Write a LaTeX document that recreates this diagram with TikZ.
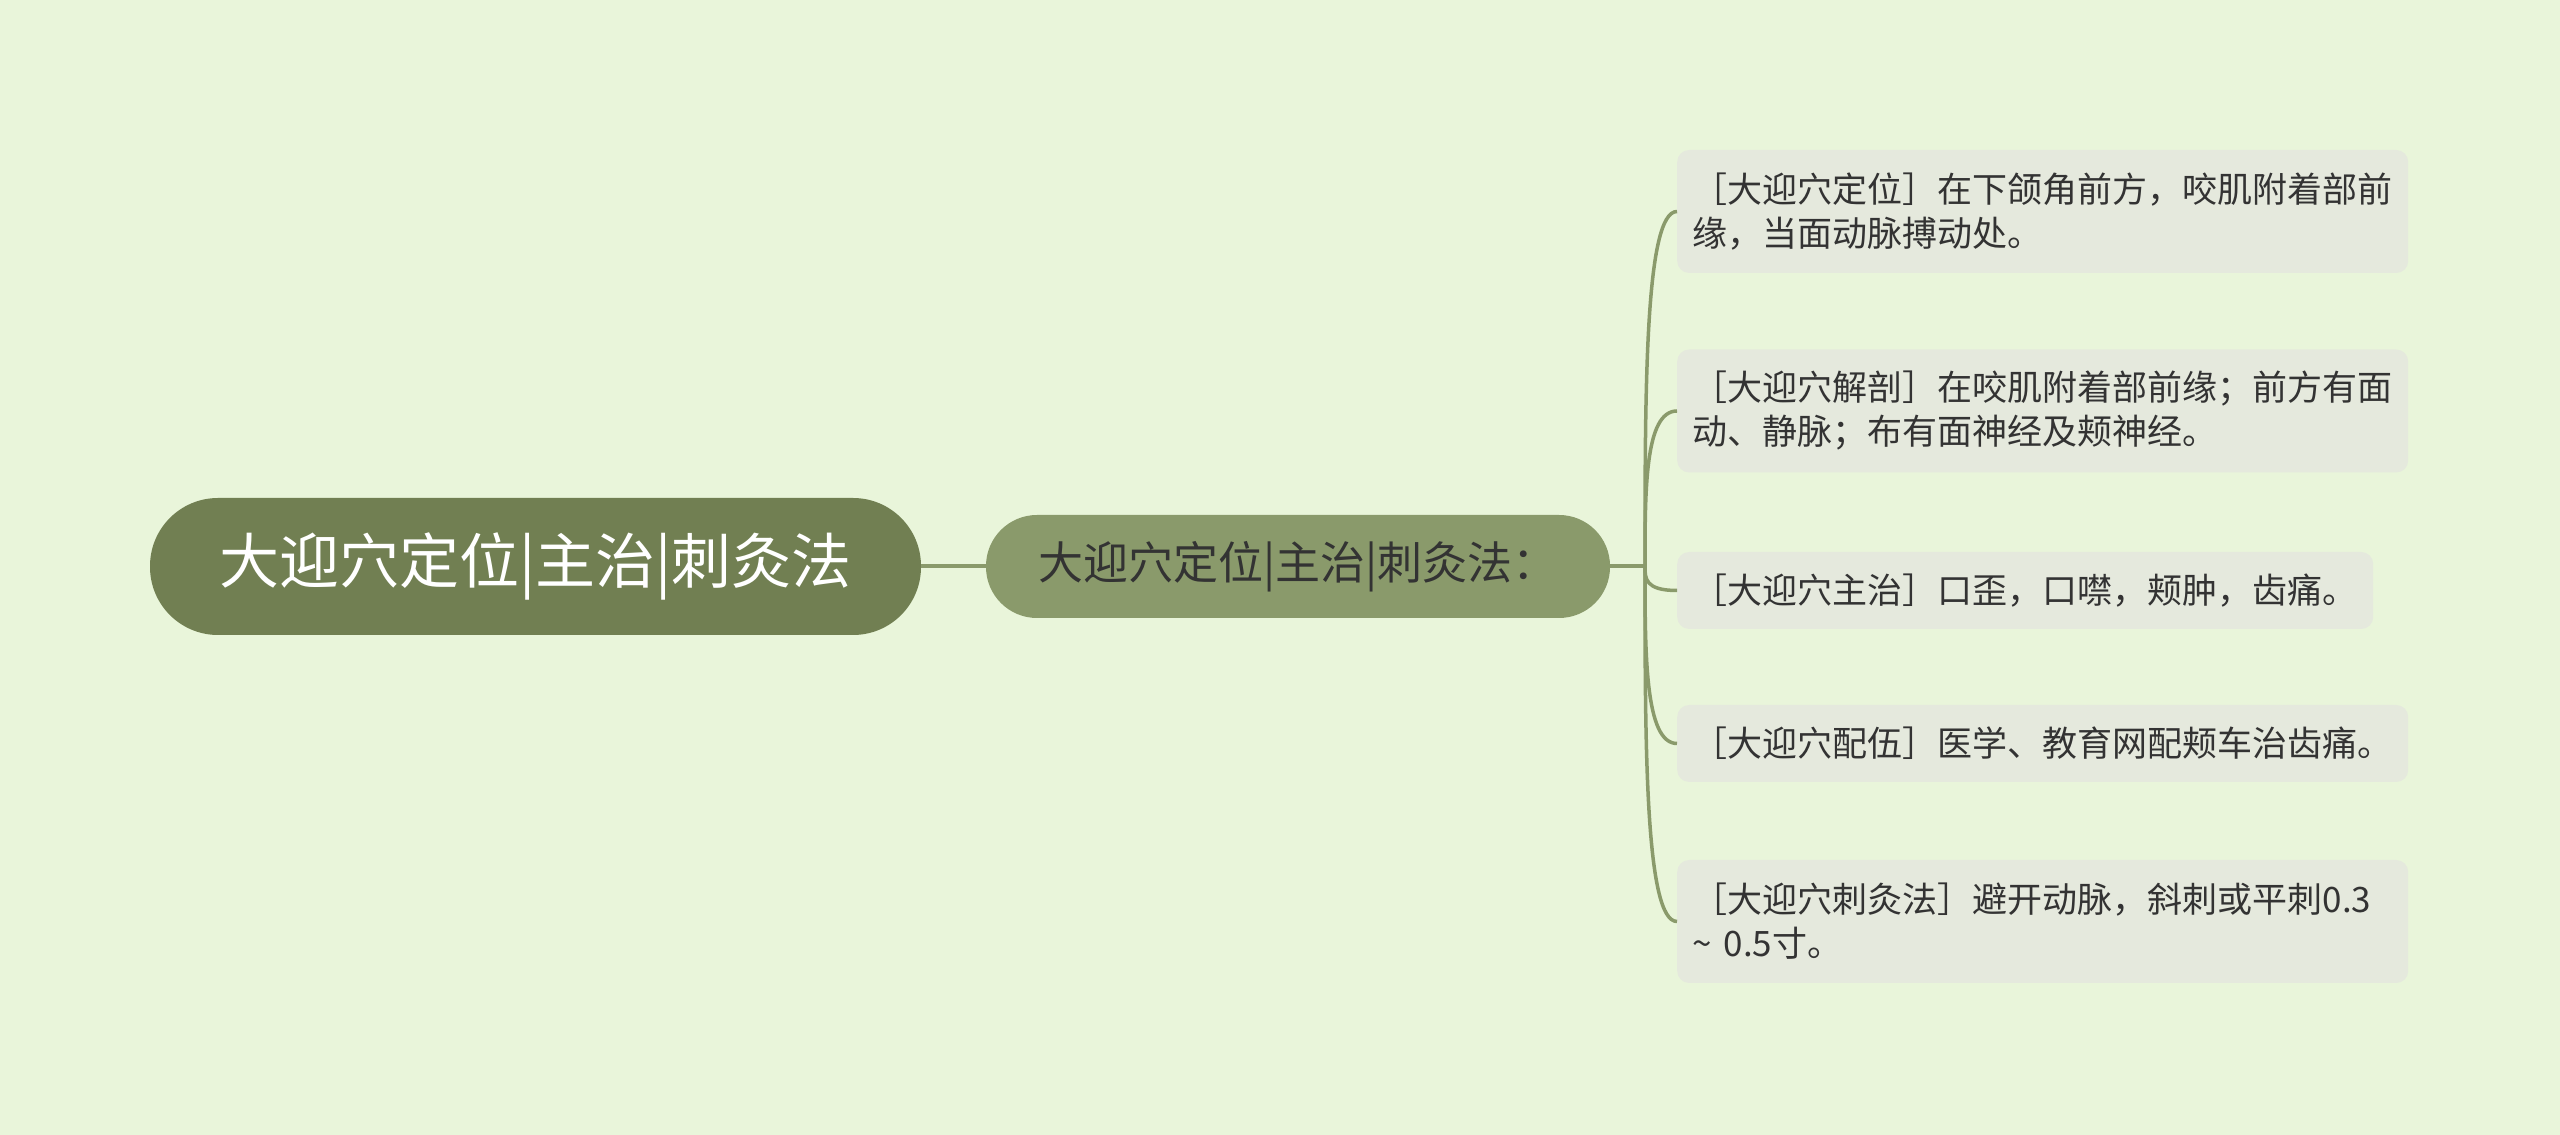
\documentclass[tikz,border=0pt]{standalone}
\usepackage{fontspec}
\usetikzlibrary{calc}
\setmainfont{Noto Sans CJK SC}
\definecolor{bgc}{HTML}{E9F5DA}
\definecolor{rootc}{HTML}{717F52}
\definecolor{midc}{HTML}{8A9A6B}
\definecolor{leafc}{HTML}{E5E9DD}
\definecolor{linec}{HTML}{8A9A6B}
\definecolor{txtc}{HTML}{333333}
\begin{document}
\begin{tikzpicture}[x=1pt,y=1pt,
  rootbox/.style={fill=rootc, rounded corners=68pt, minimum width=771pt, minimum height=137pt, inner sep=0pt,
    text=white, font=\fontsize{60}{72}\selectfont},
  midbox/.style={fill=midc, rounded corners=51pt, minimum width=624pt, minimum height=103pt, inner sep=0pt,
    text=txtc, font=\fontsize{45}{54}\selectfont},
  leafbox/.style={fill=leafc, rounded corners=12pt, anchor=west, inner xsep=15.5pt, inner ysep=0pt,
    text=txtc, align=left, font=\fontsize{35}{44}\selectfont},
  twoline/.style={text width=700pt, minimum height=123pt},
  oneline/.style={minimum height=77pt},
  conn/.style={draw=linec, line width=4pt}
]
\useasboundingbox (0,0) rectangle (2560,1135);
\fill[bgc] (0,0) rectangle (2560,1135);

\node[rootbox] (root) at (535.5,568.5) {大迎穴定位|主治|刺灸法};
\node[midbox] (mid) at (1298,568.5) {大迎穴定位|主治|刺灸法：};

\node[leafbox,twoline] (l1) at (1677,923.5) {［大迎穴定位］在下颌角前方，咬肌附着部前\\缘，当面动脉搏动处。};
\node[leafbox,twoline] (l2) at (1677,724) {［大迎穴解剖］在咬肌附着部前缘；前方有面\\动、静脉；布有面神经及颊神经。};
\node[leafbox,oneline] (l3) at (1677,544.5) {［大迎穴主治］口歪，口噤，颊肿，齿痛。};
\node[leafbox,oneline] (l4) at (1677,391.5) {［大迎穴配伍］医学、教育网配颊车治齿痛。};
\node[leafbox,twoline] (l5) at (1677,213.5) {［大迎穴刺灸法］避开动脉，斜刺或平刺0.3\\\textasciitilde{} 0.5寸。};

\coordinate (hub) at (1645,568.5);
\draw[conn] (root.east) -- (mid.west);
\draw[conn] (mid.east) -- (hub);
\foreach \n in {l1,l2,l3,l4,l5}{
  \draw[conn, line width=3.5pt] (hub) .. controls ($(hub)!0.5!(hub |- \n.west)$) and (hub |- \n.west) .. (\n.west);
}
\end{tikzpicture}
\end{document}
